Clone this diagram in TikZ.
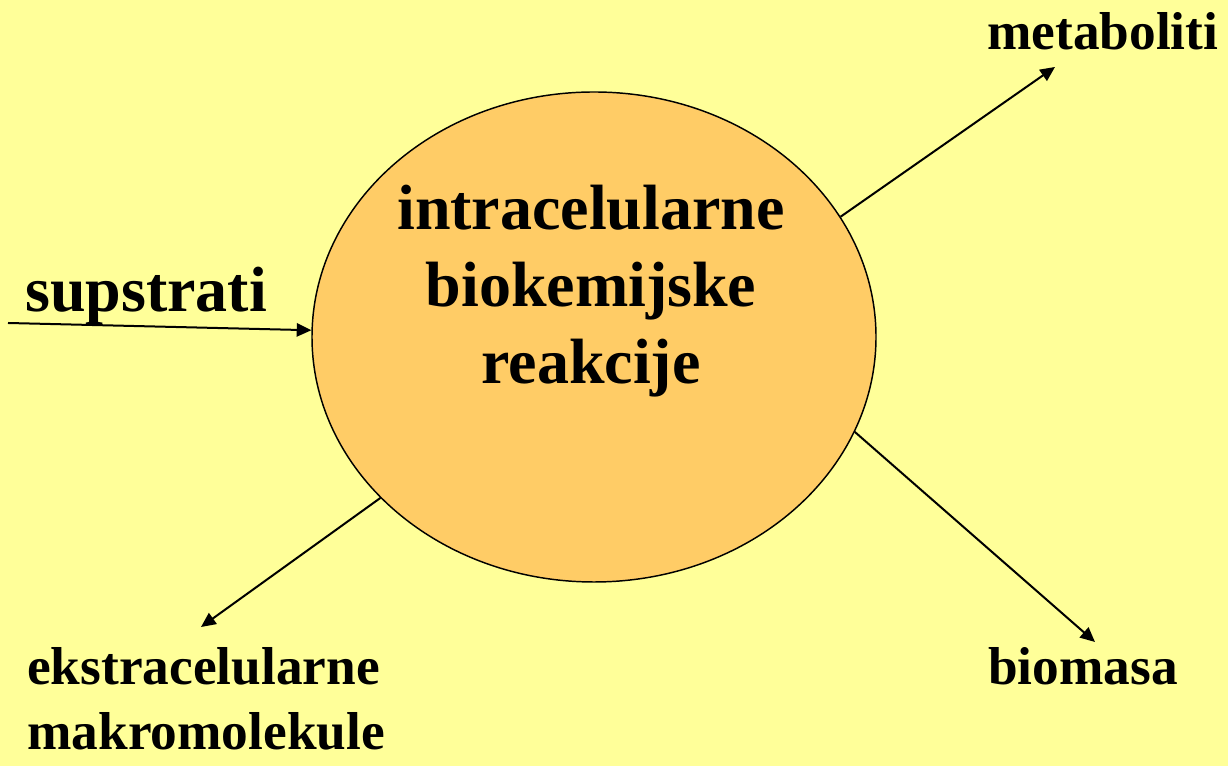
\documentclass[tikz,border=0pt]{standalone}
\usepackage{fontspec}
\setmainfont{Liberation Serif}
\usetikzlibrary{shapes.geometric,arrows.meta,positioning}
\definecolor{bgyellow}{HTML}{FFFF99}
\definecolor{cellorange}{HTML}{FFCC66}

\begin{document}
\begin{tikzpicture}[
            x=0.75pt, y=0.75pt,
            every node/.style={inner sep=0pt, font=\bfseries},
            lbl/.style={font=\fontsize{40}{48.75}\selectfont\bfseries, anchor=base west},
            big/.style={font=\fontsize{48}{57.75}\selectfont\bfseries},
            flow/.style={line width=1.5pt, -{Triangle[length=11pt,width=10pt]}},
        ]
            \fill[bgyellow] (0,0) rectangle (1228,766);
            \useasboundingbox (0,0) rectangle (1228,766);

            \node[ellipse, draw, line width=1.1pt, fill=cellorange, minimum width=423pt, minimum height=367.5pt] (cell) at (594,429) {};
            \node[big, align=center, anchor=north] (reak) at (591,581) {intracelularne\\biokemijske~\\reakcije};

            \node[big, anchor=base west] (sup) at (25,454) {supstrati};
            \node[lbl] (meta) at (987,716) {metaboliti};
            \node[lbl] (ekstra) at (27,81) {ekstracelularne};
            \node[lbl] (makro) at (27,16) {makromolekule};
            \node[lbl] (bio) at (988,81) {biomasa};

            \coordinate (supin) at (8,443);
            \coordinate (metaout) at (1055,699);
            \coordinate (ekstraout) at (201,139);
            \coordinate (bioout) at (1095,124);

            \draw[flow] (supin) -- (cell);
            \draw[flow] (cell.26) -- (metaout);
            \draw[flow] (cell.217) -- (ekstraout);
            \draw[flow] (cell.-20) -- (bioout);
        \end{tikzpicture}
\end{document}
